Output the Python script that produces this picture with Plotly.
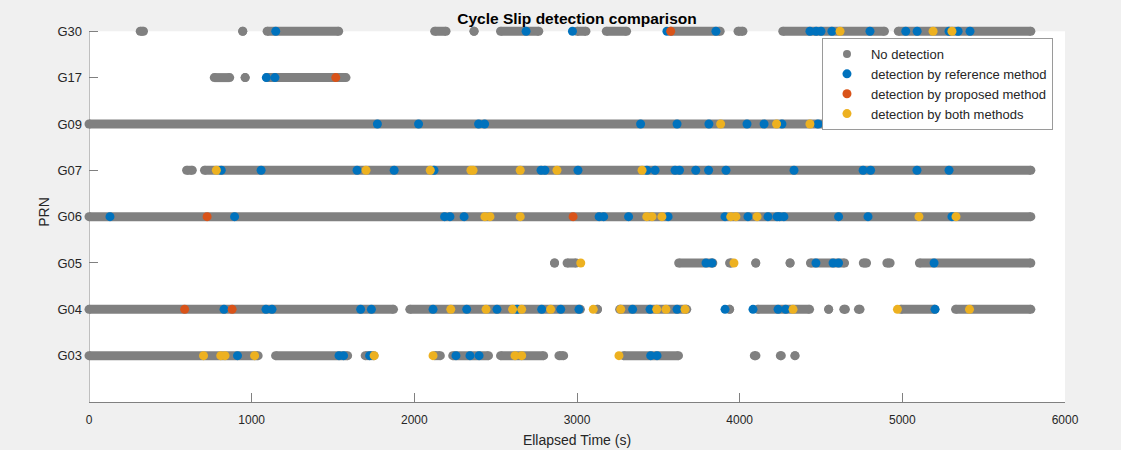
import plotly.graph_objects as go

# ---------------- data ----------------
prn_labels = ["G03", "G04", "G05", "G06", "G07", "G09", "G17", "G30"]
x_ticks = [0, 1000, 2000, 3000, 4000, 5000, 6000]

# epochs without detection, given as continuous tracking arcs (start, end) in seconds
nodetect_G03 = [(0, 1040), (1147, 1590), (1698, 1752), (2125, 2160), (2236, 2456),
                (2530, 2795), (2889, 2918), (3286, 3624), (4090, 4100), (4250, 4256), (4340, 4340)]
nodetect_G04 = [(0, 1872), (1972, 3021), (3126, 3126), (3262, 3675), (3938, 3938),
                (4110, 4430), (4547, 4547), (4640, 4650), (4730, 4740), (4990, 5200), (5327, 5790)]
nodetect_G05 = [(2862, 2862), (2939, 2995), (3625, 3835), (3938, 3950), (4099, 4099),
                (4310, 4310), (4435, 4645), (4760, 4780), (4905, 4925), (5105, 5790)]
nodetect_G06 = [(0, 5790)]
nodetect_G07 = [(600, 635), (710, 5790)]
nodetect_G09 = [(0, 5790)]
nodetect_G17 = [(770, 865), (960, 960), (1095, 1580)]
nodetect_G30 = [(315, 335), (945, 945), (1095, 1535), (2125, 2195), (2367, 2367), (2530, 2765),
                (3000, 3055), (3180, 3305), (3575, 3880), (3990, 4020), (4265, 4890), (4975, 5790)]

# epochs with detection by the reference method only
ref_G03 = [913, 1537, 1565, 1725, 2256, 2342, 2398, 3453, 3492]
ref_G04 = [830, 1088, 1125, 1670, 1736, 2115, 2322, 2508, 2632, 2783, 2900, 3012, 3342,
           3449, 3615, 3910, 4082, 4236, 4283, 5201]
ref_G05 = [3793, 3830, 4469, 4574, 4608, 5195]
ref_G06 = [129, 895, 2186, 2219, 2306, 3136, 3164, 3317, 3560, 3910, 4051, 4174, 4230,
           4245, 4272, 4608, 4789, 5305]
ref_G07 = [813, 1058, 1648, 1876, 2121, 2779, 2803, 3006, 3430, 3480, 3603, 3630, 3730,
           3809, 3916, 4334, 4759, 4805, 5090, 5287]
ref_G09 = [1773, 2026, 2395, 2432, 3391, 3615, 3811, 4045, 4150, 4260, 4481, 4525, 4572,
           4623, 4682, 4813, 4887, 4934, 5133]
ref_G17 = [1090, 1143]
ref_G30 = [1148, 2687, 2972, 3553, 3854, 4432, 4470, 4500, 4567, 4801, 5021, 5091, 5287,
           5343, 5416]

# epochs with detection by the proposed method only
prop_G04 = [588, 880]
prop_G06 = [726, 2976]
prop_G17 = [1517]
prop_G30 = [3576]

# epochs with detection by both methods
both_G03 = [704, 810, 836, 1018, 1753, 2115, 2619, 2660, 3258]
both_G04 = [2224, 2441, 2604, 2660, 2838, 3100, 3269, 3490, 3547, 3664, 4328, 4970, 5413]
both_G05 = [3023, 3965]
both_G06 = [2434, 2465, 2651, 3429, 3461, 3522, 3945, 3977, 4107, 5102, 5330]
both_G07 = [783, 1703, 2098, 2348, 2361, 2651, 2877, 3400]
both_G09 = [3883, 4227, 4432, 5026, 5293]
both_G30 = [4617, 5189, 5305]

nodetect = {"G03": nodetect_G03, "G04": nodetect_G04, "G05": nodetect_G05, "G06": nodetect_G06,
            "G07": nodetect_G07, "G09": nodetect_G09, "G17": nodetect_G17, "G30": nodetect_G30}
ref = {"G03": ref_G03, "G04": ref_G04, "G05": ref_G05, "G06": ref_G06,
       "G07": ref_G07, "G09": ref_G09, "G17": ref_G17, "G30": ref_G30}
prop = {"G04": prop_G04, "G06": prop_G06, "G17": prop_G17, "G30": prop_G30}
both = {"G03": both_G03, "G04": both_G04, "G05": both_G05, "G06": both_G06,
        "G07": both_G07, "G09": both_G09, "G30": both_G30}

# ---------------- figure ----------------
GRAY = "#808080"
BLUE = "#0072BD"
ORANGE = "#D95319"
YELLOW = "#EDB120"
PAPER = "#f0f0f0"
MS = 9
FONT = "Liberation Sans, Arial, sans-serif"

ypos = {p: i + 1 for i, p in enumerate(prn_labels)}
Y_TOP = len(prn_labels)          # axes box ends at the top category
Y_VIEW = Y_TOP + 0.2             # a little headroom so the top arcs are not clipped

fig = go.Figure()

# no-detection arcs: dense epochs drawn as thick line segments with round ends
gx, gy = [], []
for p, segs in nodetect.items():
    for s, e in segs:
        gx += [s, e, None]
        gy += [ypos[p], ypos[p], None]
fig.add_trace(go.Scatter(x=gx, y=gy, mode="lines+markers", connectgaps=False,
                         line=dict(color=GRAY, width=MS),
                         marker=dict(color=GRAY, size=MS),
                         cliponaxis=False, showlegend=False, legendgroup="nd",
                         hoverinfo="skip"))
fig.add_trace(go.Scatter(x=[None], y=[None], mode="markers", name="No detection",
                         marker=dict(color=GRAY, size=8), legendgroup="nd"))


def pts(d):
    xs, ys = [], []
    for p, vals in d.items():
        xs += vals
        ys += [ypos[p]] * len(vals)
    return xs, ys


for d, col, name in [(ref, BLUE, "detection by reference method"),
                     (prop, ORANGE, "detection by proposed method"),
                     (both, YELLOW, "detection by both methods")]:
    xs, ys = pts(d)
    fig.add_trace(go.Scatter(x=xs, y=ys, mode="markers", name=name,
                             marker=dict(color=col, size=MS),
                             cliponaxis=False))

# white axes box (0..6000 x 0..top category) and the left axis line
fig.add_shape(type="rect", xref="x", yref="y", x0=x_ticks[0], x1=x_ticks[-1], y0=0, y1=Y_TOP,
              fillcolor="white", line=dict(width=0), layer="below")
fig.add_shape(type="line", xref="x", yref="y", x0=x_ticks[0], x1=x_ticks[0], y0=0, y1=Y_TOP,
              line=dict(color=GRAY, width=1), layer="below")

fig.update_layout(
    width=1121, height=450,
    margin=dict(l=89, r=56, t=22, b=48),
    paper_bgcolor=PAPER,
    plot_bgcolor="rgba(0,0,0,0)",
    font=dict(family=FONT, color="#262626", size=12),
    title=dict(text="<b>Cycle Slip detection comparison</b>", x=0.5147, xanchor="center",
               y=0.958, yanchor="middle", font=dict(size=15.5, color="#000000", family=FONT)),
    showlegend=True,
    legend=dict(x=0.751, y=0.958, xanchor="left", yanchor="top",
                bgcolor="white", bordercolor="#9a9a9a", borderwidth=1,
                font=dict(size=13, color="#262626", family=FONT),
                tracegroupgap=0, itemwidth=38),
)
fig.update_xaxes(range=[0, 6000], tickvals=x_ticks, ticktext=[str(v) for v in x_ticks],
                 ticks="inside", ticklen=9, tickcolor=GRAY, showline=True, linecolor=GRAY,
                 linewidth=1, showgrid=False, zeroline=False, ticklabelstandoff=7,
                 automargin=False,
                 tickfont=dict(size=12, color="#262626"),
                 title=dict(text="Ellapsed Time (s)", font=dict(size=14, color="#262626"),
                            standoff=8))
fig.update_yaxes(range=[0, Y_VIEW], tickvals=[ypos[p] for p in prn_labels], ticktext=prn_labels,
                 ticks="inside", ticklen=9, tickcolor=GRAY, showline=False,
                 showgrid=False, zeroline=False, ticklabelstandoff=6, automargin=False,
                 tickfont=dict(size=13, color="#262626"),
                 title=dict(text="PRN", font=dict(size=14, color="#262626"), standoff=4))

fig.write_html("out.html", config={"displayModeBar": False},
               post_script="document.body.style.margin='0';")
